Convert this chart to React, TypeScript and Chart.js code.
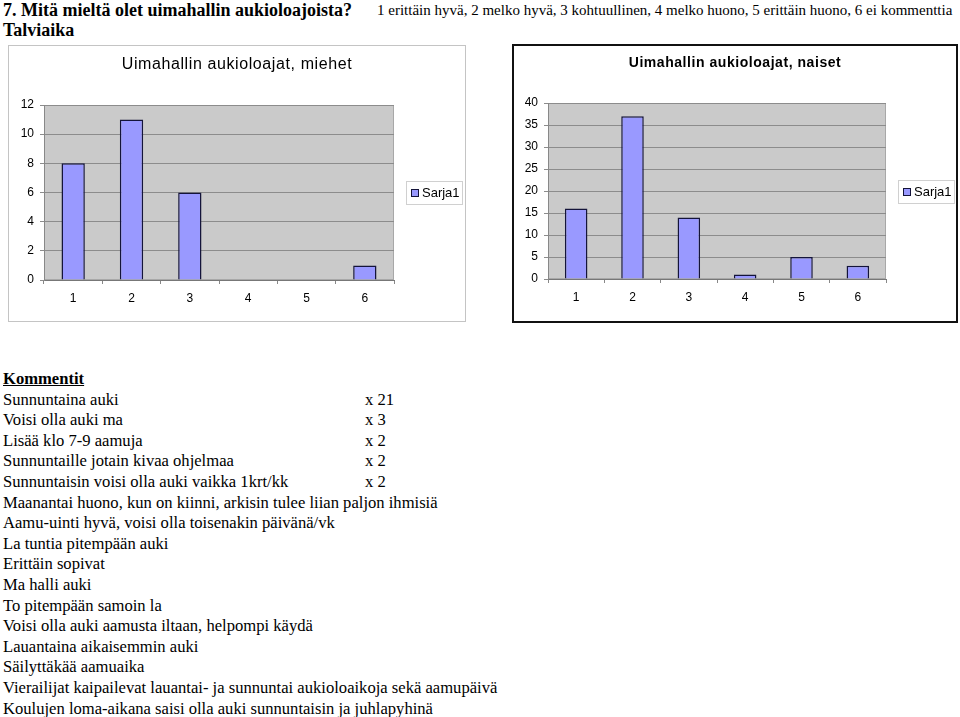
import React, { useEffect, useRef } from "react";
import { Chart, registerables } from "chart.js";
Chart.register(...registerables);

const categories = ["1", "2", "3", "4", "5", "6"];
const menValues = [8, 11, 6, 0, 0, 1];
const womenValues = [16, 37, 14, 1, 5, 3];
const seriesName = "Sarja1";
const menTitle = "Uimahallin aukioloajat, miehet";
const womenTitle = "Uimahallin aukioloajat, naiset";
const menTicks = { max: 12, step: 2 };
const womenTicks = { max: 40, step: 5 };

const pageTitle = "7. Mitä mieltä olet uimahallin aukioloajoista?";
const pageSubtitle = "Talviaika";
const scaleNote = "1 erittäin hyvä, 2 melko hyvä, 3 kohtuullinen, 4 melko huono, 5 erittäin huono, 6 ei kommenttia";
const commentsHeading = "Kommentit";
const commentTexts = [
  "Sunnuntaina auki",
  "Voisi olla auki ma",
  "Lisää klo 7-9 aamuja",
  "Sunnuntaille jotain kivaa ohjelmaa",
  "Sunnuntaisin voisi olla auki vaikka 1krt/kk",
  "Maanantai huono, kun on kiinni, arkisin tulee liian paljon ihmisiä",
  "Aamu-uinti hyvä, voisi olla toisenakin päivänä/vk",
  "La tuntia pitempään auki",
  "Erittäin sopivat",
  "Ma halli auki",
  "To pitempään samoin la",
  "Voisi olla auki aamusta iltaan, helpompi käydä",
  "Lauantaina aikaisemmin auki",
  "Säilyttäkää aamuaika",
  "Vierailijat kaipailevat lauantai- ja sunnuntai aukioloaikoja sekä aamupäivä",
  "Koulujen loma-aikana saisi olla auki sunnuntaisin ja juhlapyhinä",
];
const commentCounts = ["x 21", "x 3", "x 2", "x 2", "x 2", "", "", "", "", "", "", "", "", "", "", ""];

const SANS = "'Liberation Sans', Arial, sans-serif";
const SERIF = "'Liberation Serif', 'Times New Roman', serif";
const BAR_FILL = "#9999ff";
const BAR_BORDER = "#14143a";

const plotBg = {
  id: "plotBg",
  beforeDraw(chart: any) {
    const { ctx, chartArea: a } = chart;
    ctx.save();
    ctx.fillStyle = "#cacaca";
    ctx.fillRect(a.left, a.top, a.width, a.height);
    ctx.strokeStyle = "#a8a8a8";
    ctx.lineWidth = 1;
    ctx.strokeRect(a.left + 0.5, a.top + 0.5, a.width - 1, a.height - 1);
    ctx.restore();
  },
};

const canvasTitle = {
  id: "canvasTitle",
  afterDraw(chart: any, _args: any, opts: any) {
    const { ctx, width } = chart;
    ctx.save();
    ctx.font = `${opts.weight} ${opts.size}px ${SANS}`;
    try {
      (ctx as any).letterSpacing = `${opts.spacing}px`;
    } catch (e) {}
    ctx.fillStyle = "#000";
    ctx.textAlign = "center";
    ctx.textBaseline = "middle";
    ctx.fillText(opts.text, width / 2, opts.y);
    ctx.restore();
  },
};

const boxLegend = {
  id: "boxLegend",
  afterDraw(chart: any) {
    const { ctx, chartArea: a } = chart;
    const label = chart.data.datasets[0].label as string;
    ctx.save();
    ctx.font = `13px ${SANS}`;
    const tw = ctx.measureText(label).width;
    const w = Math.round(16 + tw + 2);
    const h = 23;
    const x = Math.round(a.right + 12);
    const y = Math.round((a.top + a.bottom) / 2 - h / 2);
    ctx.fillStyle = "#ffffff";
    ctx.fillRect(x, y, w, h);
    ctx.strokeStyle = "#d0d0d0";
    ctx.lineWidth = 1;
    ctx.strokeRect(x + 0.5, y + 0.5, w, h);
    ctx.fillStyle = BAR_FILL;
    ctx.fillRect(x + 5, y + 8, 8, 8);
    ctx.strokeStyle = BAR_BORDER;
    ctx.strokeRect(x + 5.5, y + 8.5, 7, 7);
    ctx.fillStyle = "#000";
    ctx.textBaseline = "middle";
    ctx.fillText(label, x + 16, y + h / 2 + 0.5);
    ctx.restore();
  },
};

type Cfg = {
  title: string;
  values: number[];
  max: number;
  step: number;
  titleFont: { size: number; weight: string; spacing: number; y: number };
  top: number;
  yWidth: number;
  xHeight: number;
  padRight: number;
};

function BarChart({ cfg, width, height }: { cfg: Cfg; width: number; height: number }) {
  const ref = useRef<HTMLCanvasElement>(null);
  useEffect(() => {
    if (!ref.current) return;
    const chart = new Chart(ref.current, {
      type: "bar",
      data: {
        labels: categories,
        datasets: [
          {
            label: seriesName,
            data: cfg.values,
            backgroundColor: BAR_FILL,
            borderColor: BAR_BORDER,
            borderWidth: 1.5,
            barPercentage: 0.4,
            categoryPercentage: 1,
          },
        ],
      },
      options: {
        animation: false,
        responsive: false,
        maintainAspectRatio: false,
        layout: { padding: { left: 0, right: cfg.padRight, top: cfg.top, bottom: 0 } },
        plugins: {
          legend: { display: false },
          tooltip: { enabled: false },
          title: { display: false },
          canvasTitle: { text: cfg.title, ...cfg.titleFont },
        } as any,
        scales: {
          x: {
            offset: true,
            grid: {
              offset: true,
              drawOnChartArea: false,
              drawTicks: true,
              tickLength: 4,
              color: "#888",
            },
            border: { color: "#777", width: 1 },
            ticks: { color: "#000", font: { family: SANS, size: 12 }, padding: 7 },
            afterFit: (s: any) => {
              s.height = cfg.xHeight;
            },
          },
          y: {
            min: 0,
            max: cfg.max,
            grid: { color: "#8c8c8c", tickLength: 4, drawTicks: true },
            border: { color: "#888", width: 1 },
            ticks: { stepSize: cfg.step, color: "#000", font: { family: SANS, size: 12 }, padding: 6 },
            afterFit: (s: any) => {
              s.width = cfg.yWidth;
            },
          },
        },
      },
      plugins: [plotBg, boxLegend, canvasTitle],
    });
    return () => chart.destroy();
  }, [cfg]);
  return <canvas ref={ref} width={width} height={height} style={{ display: "block", width, height }} />;
}

const menCfg: Cfg = {
  title: menTitle,
  values: menValues,
  max: menTicks.max,
  step: menTicks.step,
  titleFont: { size: 16, weight: "normal", spacing: 0.6, y: 19 },
  top: 59,
  yWidth: 35,
  xHeight: 41,
  padRight: 71,
};

const womenCfg: Cfg = {
  title: womenTitle,
  values: womenValues,
  max: womenTicks.max,
  step: womenTicks.step,
  titleFont: { size: 14, weight: "bold", spacing: 0.55, y: 17 },
  top: 57,
  yWidth: 34,
  xHeight: 42,
  padRight: 70,
};

export default function App() {
  useEffect(() => {
    document.body.style.margin = "0";
  }, []);
  return (
    <div style={{ position: "relative", width: 960, height: 717, background: "#fff", overflow: "hidden", fontFamily: SERIF, color: "#000" }}>
      <div style={{ position: "absolute", left: 3, top: 0, fontWeight: "bold", fontSize: 18, lineHeight: "20px" }}>
        <div>{pageTitle}</div>
        <div>{pageSubtitle}</div>
      </div>
      <div style={{ position: "absolute", left: 377, top: 1, fontSize: 15, lineHeight: "18px", whiteSpace: "nowrap" }}>{scaleNote}</div>

      <div style={{ position: "absolute", left: 8, top: 45, width: 456, height: 275, border: "1px solid #c4c4c4" }}>
        <BarChart cfg={menCfg} width={456} height={275} />
      </div>
      <div style={{ position: "absolute", left: 512, top: 44, width: 442, height: 275, border: "2px solid #111" }}>
        <BarChart cfg={womenCfg} width={442} height={275} />
      </div>

      <div style={{ position: "absolute", left: 3, top: 369, fontSize: 16.6, lineHeight: "20.6px", whiteSpace: "nowrap" }}>
        <div style={{ fontWeight: "bold", textDecoration: "underline" }}>{commentsHeading}</div>
        {commentTexts.map((t, i) => (
          <div key={i} style={{ display: "flex" }}>
            <span style={{ display: "inline-block", width: commentCounts[i] ? 362 : "auto" }}>{t}</span>
            {commentCounts[i] ? <span>{commentCounts[i]}</span> : null}
          </div>
        ))}
      </div>
    </div>
  );
}
